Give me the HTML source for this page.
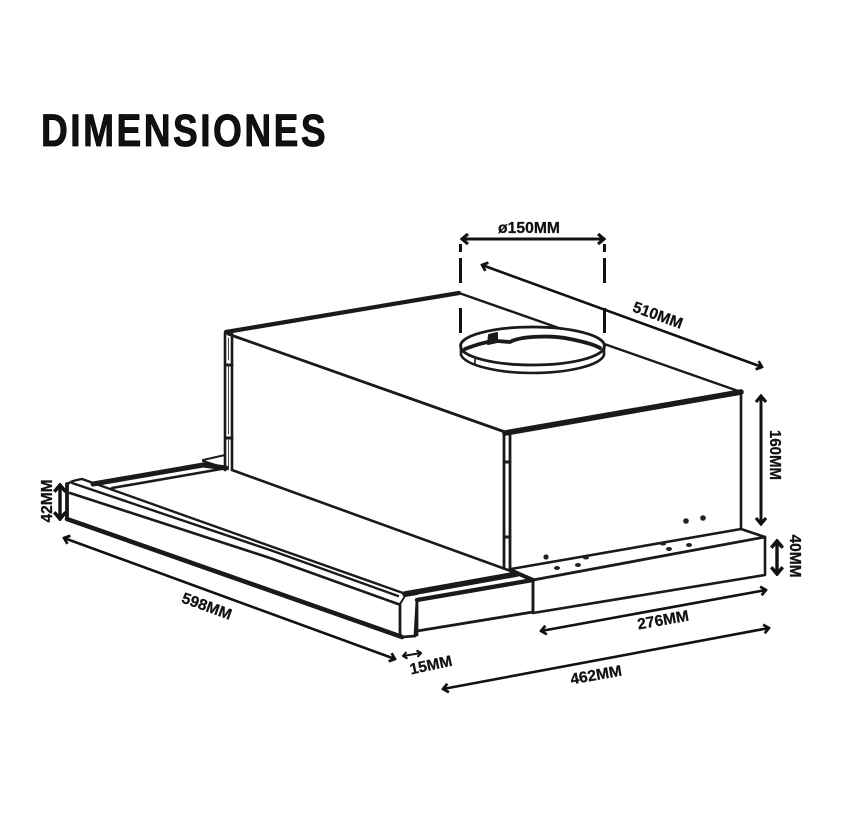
<!DOCTYPE html>
<html>
<head>
<meta charset="utf-8">
<style>
html,body{margin:0;padding:0;background:#fff}
svg{display:block}
text{font-family:"Liberation Sans",sans-serif;font-weight:bold;fill:#111}
</style>
</head>
<body>
<svg width="844" height="814" viewBox="0 0 844 814" xmlns="http://www.w3.org/2000/svg">
<defs>
<marker id="a" viewBox="0 0 10 10" refX="8.500" refY="5" markerWidth="4" markerHeight="4" orient="auto-start-reverse" markerUnits="strokeWidth">
<path d="M3.500 .8 L8.500 5 L3.500 9.200" fill="none" stroke="#111" stroke-width="2.600"/>
</marker>
</defs>
<rect width="844" height="814" fill="#fff"/>
<text transform="translate(41 146) scale(.825 1)" font-size="45" letter-spacing="3" stroke="#000" stroke-width=".8">DIMENSIONES</text>

<g fill="none" stroke="#1a1a1a" stroke-linejoin="round" stroke-linecap="round">
<!-- box -->
<path d="M226 332 L459 293" stroke-width="4.200"/>
<path d="M459 293 L741 392" stroke-width="2.400"/>
<path d="M505 433 L741 392" stroke-width="5.600"/>
<path d="M228 334 L505 432" stroke-width="2.800"/>
<path d="M225 333 V470 M232 334 V470" stroke-width="2.600"/>
<path d="M228.500 338 V360 M228.500 364 V434 M228.500 440 V470" stroke-width="0.800"/>
<path d="M226 365 H232 M226 438 H232" stroke-width="3"/>
<path d="M504 432 V567 M510 432 V569" stroke-width="2.800"/>
<path d="M505 462 H510 M505 537 H510" stroke-width="3"/>
<path d="M741 392 V529" stroke-width="2.600"/>
<path d="M232 470 L508 570" stroke-width="2.600"/>
<!-- right lip -->
<path d="M511 569 L741 529 L765 537 V575 L533 613 V580" stroke-width="2.600"/>
<path d="M533 580 L765 537" stroke-width="2.800"/>
<!-- back tray -->
<path d="M93 484 L203 465 L226 468" stroke-width="5"/>
<path d="M112 488 L227 468" stroke-width="2.600"/>
<path d="M203 460 L225 455" stroke-width="2"/>
<path d="M203 461 L225 468" stroke-width="2"/>
<!-- front rail -->
<path d="M68 484 Q70 481 82 479 L270 546 L403 593" stroke-width="2.400"/>
<path d="M72 483 L270 550 L398 596" stroke-width="2.400"/>
<path d="M70 493 L270 558 L398 604" stroke-width="2.600"/>
<path d="M67 484 V519" stroke-width="3.800"/>
<path d="M67 519 L402 637" stroke-width="4.600"/>
<!-- end cap -->
<path d="M400 604 V637 M402 637 L415 636 L417 600 M417 600 V635" stroke-width="2.800"/>
<path d="M400 604 L405 596 L417 594" stroke-width="2"/>
<!-- front panel -->
<path d="M405 594 L517 574" stroke-width="5.600"/>
<path d="M417 600 L533 580" stroke-width="4.400"/>
<path d="M510 570 L533 580" stroke-width="4"/>
<path d="M417 631 L533 612" stroke-width="2.800"/>
<path d="M533 580 V612" stroke-width="2.800"/>
<!-- ring -->
<ellipse cx="532.500" cy="346" rx="72" ry="19" fill="#fff" stroke-width="2.800"/>
<path d="M461 346 V355 C466 366 500 373 532 373 C566 373 600 366 604 355 V346" stroke-width="2.600"/>
<path d="M465 349 C478 344 490 341 497 341 L510 342 C520 336 552 335 570 339 C585 342 595 345 600 348" stroke-width="3.800"/>
<path d="M489 335 L497 333 L497 342 L488 344 Z" fill="#1a1a1a" stroke-width="2"/>
<path d="M475 357 V364" stroke-width="1.600"/>
</g>
<g fill="#222">
<circle cx="686" cy="521" r="2.800"/><circle cx="703" cy="518" r="2.800"/><circle cx="546" cy="557" r="2.600"/>
<ellipse cx="557" cy="568" rx="3" ry="2"/><ellipse cx="578" cy="565" rx="3" ry="2"/><ellipse cx="586" cy="558" rx="3" ry="1.500"/>
<ellipse cx="663" cy="544" rx="3" ry="1.500"/><ellipse cx="669" cy="549" rx="3" ry="2"/><ellipse cx="689" cy="545" rx="3" ry="2"/>
</g>

<!-- dimensions -->
<g fill="none" stroke="#111" stroke-width="2.600">
<path d="M462 239 H604" marker-start="url(#a)" marker-end="url(#a)" stroke-width="3"/>
<path d="M460.500 244 V252 M460.500 258 V283 M460.500 308 V333 M604.500 244 V252 M604.500 258 V283 M604.500 308 V333" stroke-width="3"/>
<path d="M482 265 L762 367" marker-start="url(#a)" marker-end="url(#a)"/>
<path d="M761 396 V524" marker-start="url(#a)" marker-end="url(#a)" stroke-width="3"/>
<path d="M777 541 V574" marker-start="url(#a)" marker-end="url(#a)" stroke-width="3.400"/>
<path d="M60 485 V519" marker-start="url(#a)" marker-end="url(#a)" stroke-width="3.400"/>
<path d="M64 538 L395 659" marker-start="url(#a)" marker-end="url(#a)"/>
<path d="M403 656 L421 653" marker-start="url(#a)" marker-end="url(#a)" stroke-width="2"/>
<path d="M541 631 L766 590" marker-start="url(#a)" marker-end="url(#a)"/>
<path d="M443 689 L769 628" marker-start="url(#a)" marker-end="url(#a)"/>
</g>
<g font-size="15.500" text-anchor="middle" stroke="#111" stroke-width=".25">
<text x="529" y="233" textLength="62" lengthAdjust="spacingAndGlyphs">ø150MM</text>
<text transform="translate(656 320) rotate(20)" textLength="52" lengthAdjust="spacingAndGlyphs">510MM</text>
<text transform="translate(770 455) rotate(90)" textLength="50" lengthAdjust="spacingAndGlyphs">160MM</text>
<text transform="translate(790 556) rotate(90)" textLength="43" lengthAdjust="spacingAndGlyphs">40MM</text>
<text transform="translate(52 501) rotate(-90)" textLength="43" lengthAdjust="spacingAndGlyphs">42MM</text>
<text transform="translate(205 611) rotate(20)" textLength="52" lengthAdjust="spacingAndGlyphs">598MM</text>
<text transform="translate(432 670) rotate(-12)" textLength="43" lengthAdjust="spacingAndGlyphs">15MM</text>
<text transform="translate(664 625) rotate(-10)" textLength="52" lengthAdjust="spacingAndGlyphs">276MM</text>
<text transform="translate(597 680) rotate(-10)" textLength="52" lengthAdjust="spacingAndGlyphs">462MM</text>
</g>
</svg>
</body>
</html>
